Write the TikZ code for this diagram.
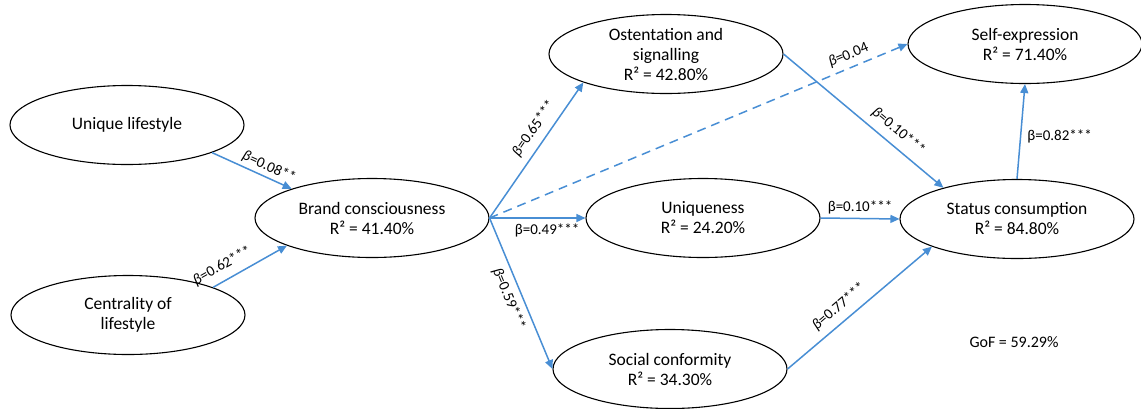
\documentclass[tikz,border=0pt]{standalone}
\usepackage{fontspec}
\setmainfont{Carlito}
\usetikzlibrary{arrows.meta,shapes.geometric}
\definecolor{lineblue}{RGB}{72,142,212}
\tikzset{
  construct/.style={ellipse, draw=black, line width=1.1pt, minimum width=234pt, minimum height=79pt, inner sep=0pt, align=center, font=\fontsize{17.5}{20}\selectfont},
  arrowpath/.style={draw=lineblue, line width=1.5pt, -{Triangle[length=9pt,width=8pt]}},
  beta/.style={font=\fontsize{15}{17}\selectfont, inner sep=2pt, text=black},
}
\begin{document}
\begin{tikzpicture}[x=1pt,y=-1pt]
\useasboundingbox (0,0) rectangle (1141,408);
\node[construct] (unique) at (127,125) {Unique lifestyle};
\node[construct] (central) at (128,315) {Centrality of\\lifestyle};
\node[construct] (brand) at (372,218) {Brand consciousness\\R² = 41.40\%};
\node[construct] (ost) at (666,54) {Ostentation and\\signalling\\R² = 42.80\%};
\node[construct] (uniq) at (703,218) {Uniqueness\\R² = 24.20\%};
\node[construct] (social) at (670,369) {Social conformity\\R² = 34.30\%};
\node[construct] (self) at (1025,44) {Self-expression\\R² = 71.40\%};
\node[construct] (status) at (1017,219) {Status consumption\\R² = 84.80\%};
\node[beta, font=\fontsize{16}{18}\selectfont] (gof) at (1014,342) {GoF = 59.29\%};

\draw[arrowpath] (unique.-18.6) -- node[beta, sloped, above=1pt, pos=0.66] {\textit{β}=0.08**} (brand.160.6);
\draw[arrowpath] (central.18.9) -- node[beta, sloped, above=5pt, pos=0.22] {\textit{β}=0.62***} (brand.198.8);
\draw[arrowpath] (brand.east) -- node[beta, sloped, above=5pt, pos=0.6] {\textit{β}=0.65***} (ost.199.8);
\draw[arrowpath] (brand.east) -- node[beta, below=3pt, pos=0.6] {β=0.49***} (uniq.west);
\draw[arrowpath] (brand.east) -- node[beta, sloped, below=4pt, pos=0.5] {\textit{β}=0.59***} (social.west);
\draw[arrowpath, dash pattern=on 9pt off 6pt] (brand.east) -- node[beta, sloped, above=3pt, pos=0.87] {\textit{β}=0.04} (self.west);
\draw[arrowpath] (ost.east) -- node[beta, sloped, above=5pt, pos=0.66] {\textit{β}=0.10***} (status.157.5);
\draw[arrowpath] (uniq.east) -- node[beta, above=2pt, pos=0.5] {β=0.10***} (status.west);
\draw[arrowpath] (social.east) -- node[beta, sloped, above=5pt, pos=0.42] {\textit{β}=0.77***} (status.198.4);
\draw[arrowpath] (status.north) -- node[beta, right, pos=0.45, xshift=4pt] {β=0.82***} (self.south);
\end{tikzpicture}
\end{document}
